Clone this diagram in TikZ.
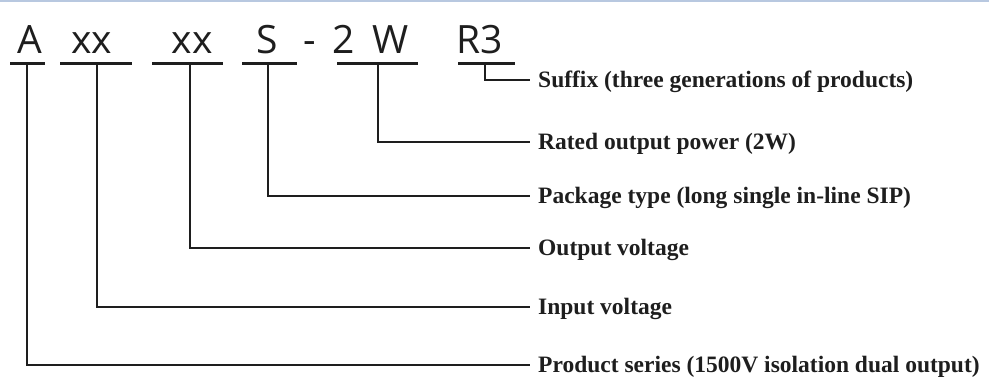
\documentclass[tikz,border=0pt]{standalone}
\usepackage{fontspec}
\setmainfont{Liberation Serif}
\newfontfamily\codefont{Open Sans}
\definecolor{ink}{HTML}{1E1E1E}
\definecolor{topline}{HTML}{B8C8E0}
\begin{document}
\begin{tikzpicture}[x=1pt,y=-1pt,
  code/.style={font=\codefont\fontsize{39}{39}\selectfont, inner sep=0pt, anchor=base, text=ink},
  lbl/.style={font=\bfseries\fontsize{23.5}{24}\selectfont, inner sep=0pt, anchor=west, text=ink,
              text height=15.5pt, text depth=0pt},
  uline/.style={draw=ink, line width=3pt},
  conn/.style={draw=ink, line width=2.8pt}]
\useasboundingbox (0,0) rectangle (989,376);
\fill[topline] (0,0) rectangle (989,2);

% code letters
\node[code] (cA)  at (30,53)  {A};
\node[code] (cX1) at (91.5,53) {xx};
\node[code] (cX2) at (192,53) {xx};
\node[code] (cS)  at (267,53) {S};
\node[code] (cD)  at (310,53) {-};
\node[code] (c2)  at (344,53) {2};
\node[code] (cW)  at (391,53) {W};
\node[code] (cR)  at (480,53) {R3};

% underlines
\draw[uline] (10,63) -- (45,63);
\draw[uline] (60,63) -- (132,63);
\draw[uline] (152,63) -- (223,63);
\draw[uline] (242,63) -- (297,63);
\draw[uline] (337,63) -- (418,63);
\draw[uline] (458,63) -- (515,63);

% connector start points (on underlines)
\coordinate (uA)  at (27,63);
\coordinate (uX1) at (97,63);
\coordinate (uX2) at (190,63);
\coordinate (uS)  at (268,63);
\coordinate (uW)  at (378,63);
\coordinate (uR)  at (485,63);

% labels
\node[lbl] (lR) at (538,80)  {Suffix (three generations of products)};
\node[lbl] (lW) at (538,142) {Rated output power (2W)};
\node[lbl] (lS) at (538,196) {Package type (long single in-line SIP)};
\node[lbl] (lX2) at (538,248) {Output voltage};
\node[lbl] (lX1) at (538,307) {Input voltage};
\node[lbl] (lA) at (538,365) {Product series (1500V isolation dual output)};

% connectors
\draw[conn] (uR)  |- ([xshift=-8pt]lR.west);
\draw[conn] (uW)  |- ([xshift=-8pt]lW.west);
\draw[conn] (uS)  |- ([xshift=-8pt]lS.west);
\draw[conn] (uX2) |- ([xshift=-8pt]lX2.west);
\draw[conn] (uX1) |- ([xshift=-8pt]lX1.west);
\draw[conn] (uA)  |- ([xshift=-8pt]lA.west);
\end{tikzpicture}
\end{document}
